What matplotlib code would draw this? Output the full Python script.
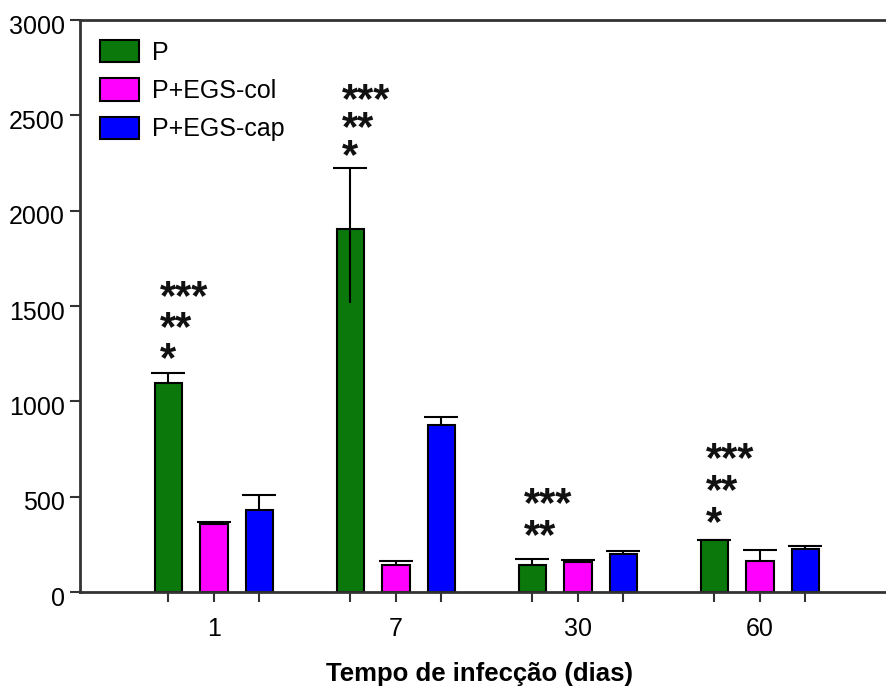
import numpy as np
import matplotlib
matplotlib.use("Agg")
import matplotlib.pyplot as plt
from matplotlib.patches import Patch
from matplotlib.transforms import ScaledTranslation

# ---------------- data ----------------
days = ["1", "7", "30", "60"]
series = ["P", "P+EGS-col", "P+EGS-cap"]
vals_P = [1095, 1904, 142, 273]
vals_col = [357, 142, 159, 164]
vals_cap = [432, 876, 201, 225]
err_up_P = [52, 320, 31, 0]
err_up_col = [8, 22, 7, 58]
err_up_cap = [75, 40, 14, 15]
err_lo_P = [0, 390, 0, 0]
err_lo_col = [0, 0, 0, 0]
err_lo_cap = [0, 0, 0, 0]
stars = ["***\n**\n*", "***\n**\n*", "***\n**", "***\n**\n*"]
yticks = [0, 500, 1000, 1500, 2000, 2500, 3000]

colors = ["#0a780a", "#ff00ff", "#0000ff"]
values = [vals_P, vals_col, vals_cap]
err_up = [err_up_P, err_up_col, err_up_cap]
err_lo = [err_lo_P, err_lo_col, err_lo_cap]

W, H = 887, 687
fig = plt.figure(figsize=(W / 100, H / 100), dpi=100)
ax = fig.add_axes([80 / W, 1 - 592 / H, 1 - 80 / W, (592 - 20) / H])

FONT = "Liberation Sans"
x = np.arange(len(days))
offs = [-0.25, 0.0, 0.25]
width = 0.152
all_pos = []
for i, (vals, col) in enumerate(zip(values, colors)):
    pos = x + offs[i]
    all_pos.extend(pos)
    ax.bar(pos, vals, width, color=col, edgecolor="black", linewidth=1.5, zorder=2)
    # upper error bars (only the upper cap is shown)
    _, caps, _ = ax.errorbar(pos, vals, yerr=[np.zeros(len(vals)), err_up[i]], fmt="none",
                             ecolor="black", elinewidth=1.5, capsize=12.5, capthick=1.5, zorder=1)
    caps[0].set_visible(False)
    # lower whiskers, visible inside the bar, without caps
    lo = np.asarray(err_lo[i])
    if lo.any():
        ax.errorbar(pos, vals, yerr=[lo, np.zeros(len(vals))], fmt="none", ecolor="black",
                    elinewidth=1.5, capsize=0, zorder=3)

# significance stars above the P bars (one multi-line text per group)
gaps_px = [20, 18, 29, 23]      # gap from error top to centre of lowest row
rowsp_px = [30, 26, 31, 31]     # row spacing
fs_star = 30
fs_px = fs_star / 72 * 100
lp_h = 1.015 * fs_px
for g, txt in enumerate(stars):
    top = vals_P[g] + err_up_P[g]
    base_px = gaps_px[g] - 0.575 * fs_px + 6
    ax.annotate(txt, xy=(x[g] - 0.25, top), xytext=(-9 * 0.72, base_px * 0.72),
                textcoords="offset points", ha="left", va="baseline", multialignment="left",
                linespacing=rowsp_px[g] / lp_h,
                fontsize=fs_star, family=FONT, fontweight="bold",
                color="#111111", zorder=4)

ax.set_xlim(-0.736, 3.698)
ax.set_ylim(0, 3000)
ax.set_yticks(yticks)
ax.set_yticklabels([str(v) for v in yticks], fontsize=18, family=FONT)
all_pos = sorted(all_pos)
ax.set_xticks(all_pos)
lbls = []
for p in all_pos:
    k = int(round(p))
    lbls.append(days[k] if abs(p - k) < 1e-6 else "")
ax.set_xticklabels(lbls, fontsize=18, family=FONT)
ax.tick_params(axis="x", length=7, width=1.5, pad=11, color="#333333")
ax.tick_params(axis="y", length=7, width=1.5, pad=4, color="#333333")
for lab in ax.get_yticklabels():
    lab.set_transform(lab.get_transform() + ScaledTranslation(0, -4 / 100, fig.dpi_scale_trans))

for sp in ["left", "bottom", "top"]:
    ax.spines[sp].set_linewidth(2)
    ax.spines[sp].set_color("#333333")
ax.spines["right"].set_visible(False)

fig.text(480 / W, 6 / H, "Tempo de infecção (dias)", ha="center", va="baseline",
         fontsize=18.5, fontweight="bold", family=FONT)

handles = [Patch(facecolor=c, edgecolor="black", linewidth=1.5) for c in colors]
fs_leg = 18
leg = ax.legend(handles, series, loc="upper left", bbox_to_anchor=((100 - 80) / 807, (592 - 40) / 572),
                frameon=False, prop={"family": FONT, "size": fs_leg}, borderpad=0, borderaxespad=0,
                handlelength=1.56, handleheight=1.0, handletextpad=0.5, labelspacing=0.54)

fig.savefig("out.png", dpi=100)
